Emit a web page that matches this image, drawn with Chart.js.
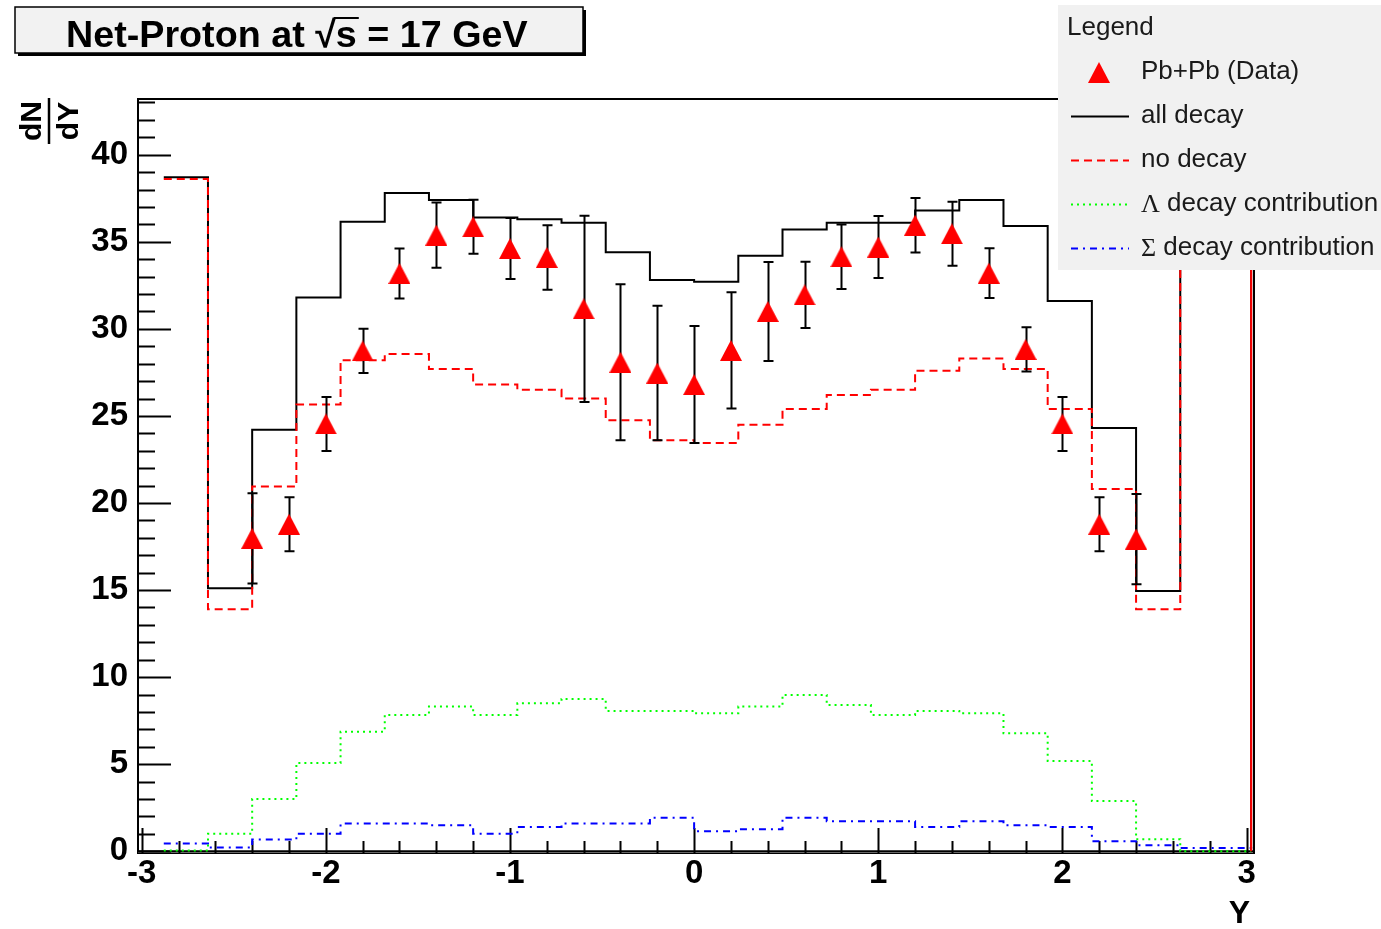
<!DOCTYPE html>
<html>
<head>
<meta charset="utf-8">
<title>Net-Proton at sqrt(s) = 17 GeV</title>
<script src="https://cdn.jsdelivr.net/npm/chart.js@4.4.1/dist/chart.umd.min.js"></script>
<style>
  html, body { margin: 0; padding: 0; background: #fff; }
  #wrap { position: relative; width: 1381px; height: 929px; }
</style>
</head>
<body>
<div id="wrap"><canvas id="chart" width="1381" height="929"></canvas></div>
<script>
// model histograms: bin edges in rapidity, one value per bin
const binEdges = [-2.88, -2.64, -2.40, -2.16, -1.92, -1.68, -1.44, -1.20, -0.96, -0.72, -0.48, -0.24,
  0, 0.24, 0.48, 0.72, 0.96, 1.20, 1.44, 1.68, 1.92, 2.16, 2.40, 2.64, 3.025];
const allDecay = [38.7, 15.1, 24.2, 31.8, 36.15, 37.8, 37.4, 36.4, 36.3, 36.1, 34.4, 32.8,
  32.7, 34.2, 35.7, 36.1, 36.1, 36.8, 37.4, 35.9, 31.6, 24.3, 14.95, 38.7];
const noDecay = [38.6, 13.9, 20.95, 25.65, 28.2, 28.55, 27.7, 26.8, 26.5, 26.0, 24.75, 23.6,
  23.45, 24.5, 25.4, 26.2, 26.5, 27.6, 28.3, 27.7, 25.4, 20.8, 13.9, 38.6];
const lambdaDecay = [0.05, 1.0, 3.0, 5.07, 6.87, 7.83, 8.31, 7.83, 8.5, 8.75, 8.06, 8.06,
  7.92, 8.31, 8.98, 8.4, 7.83, 8.06, 7.92, 6.77, 5.18, 2.88, 0.69, 0.0];
const sigmaDecay = [0.44, 0.21, 0.67, 1.01, 1.59, 1.59, 1.5, 1.01, 1.4, 1.59, 1.59, 1.93,
  1.15, 1.27, 1.93, 1.73, 1.73, 1.4, 1.73, 1.5, 1.4, 0.58, 0.35, 0.19];

// Pb+Pb data points
const dataRapidity = [-2.4, -2.2, -2.0, -1.8, -1.6, -1.4, -1.2, -1.0, -0.8, -0.6, -0.4, -0.2,
  0, 0.2, 0.4, 0.6, 0.8, 1.0, 1.2, 1.4, 1.6, 1.8, 2.0, 2.2, 2.4];
const dataValue = [17.97, 18.78, 24.54, 28.73, 33.18, 35.38, 35.86, 34.61, 34.1, 31.15, 28.08, 27.46,
  26.8, 28.76, 31.0, 31.95, 34.14, 34.7, 35.95, 35.46, 33.2, 28.82, 24.54, 18.78, 17.93];
const dataError = [2.59, 1.55, 1.55, 1.27, 1.43, 1.87, 1.55, 1.75, 1.85, 5.35, 4.48, 3.86,
  3.36, 3.34, 2.84, 1.9, 1.85, 1.78, 1.57, 1.84, 1.43, 1.27, 1.55, 1.55, 2.59];

const xTickLabels = [-3, -2, -1, 0, 1, 2, 3];
const yTickLabels = [0, 5, 10, 15, 20, 25, 30, 35, 40];

const SANS = '"Liberation Sans", Arial, Helvetica, sans-serif';
const SERIF = '"Liberation Serif", "Times New Roman", serif';

function stepPoints(values) {
  const pts = values.map((v, i) => ({ x: binEdges[i], y: v }));
  const end = binEdges[values.length];
  pts.push({ x: end, y: values[values.length - 1] });
  pts.push({ x: end, y: 0 });
  return pts;
}

// filled triangle like ROOT marker 22
const tri = document.createElement('canvas');
tri.width = 22; tri.height = 21;
(function () {
  const c = tri.getContext('2d');
  c.fillStyle = '#ff0000';
  c.beginPath();
  c.moveTo(11, 0); c.lineTo(22, 21); c.lineTo(0, 21); c.closePath();
  c.fill();
})();

const lastSeg = binEdges.length; // index of the closing vertical

const errorBars = {
  id: 'errorBars',
  beforeDatasetDraw(chart, args) {
    if (args.index !== 0) return;
    const { ctx, scales: { x, y } } = chart;
    ctx.save();
    ctx.strokeStyle = '#000';
    ctx.lineWidth = 2;
    dataRapidity.forEach((r, i) => {
      const px = Math.round(x.getPixelForValue(r)) + 0.5;
      const top = y.getPixelForValue(dataValue[i] + dataError[i]);
      const bot = y.getPixelForValue(dataValue[i] - dataError[i]);
      ctx.beginPath();
      ctx.moveTo(px, top); ctx.lineTo(px, bot);
      ctx.moveTo(px - 5, top); ctx.lineTo(px + 5, top);
      ctx.moveTo(px - 5, bot); ctx.lineTo(px + 5, bot);
      ctx.stroke();
    });
    ctx.restore();
  }
};

const rootFrame = {
  id: 'rootFrame',
  beforeDatasetsDraw(chart) {
    const { ctx, chartArea: a, scales: { x, y } } = chart;
    ctx.save();
    ctx.strokeStyle = '#000';
    ctx.lineWidth = 2;
    ctx.strokeRect(a.left, a.top, a.right - a.left + 1, a.bottom - a.top);
    // x axis line sits at y = 0, just above the frame bottom
    const y0 = y.getPixelForValue(0);
    ctx.fillStyle = '#8a8a8a';
    ctx.fillRect(a.left, y0, a.right - a.left, a.bottom - y0);
    ctx.beginPath();
    ctx.moveTo(a.left, y0); ctx.lineTo(a.right, y0);
    ctx.stroke();
    // y ticks, inward
    ctx.beginPath();
    for (let v = 0; v <= Math.floor(y.max); v++) {
      const py = Math.round(y.getPixelForValue(v)) + 0.5;
      const len = v % 5 === 0 ? 33 : 17;
      ctx.moveTo(a.left, py); ctx.lineTo(a.left + len, py);
    }
    // x ticks, upward
    for (let k = -15; k <= 15; k++) {
      const px = Math.round(x.getPixelForValue(k / 5)) + 0.5;
      const len = k % 5 === 0 ? 25 : 12;
      ctx.moveTo(px, a.bottom); ctx.lineTo(px, a.bottom - len);
    }
    ctx.stroke();
    ctx.restore();
  }
};

const decorations = {
  id: 'decorations',
  afterDraw(chart) {
    const { ctx } = chart;
    ctx.save();

    // title pave with shadow
    ctx.fillStyle = '#000';
    ctx.fillRect(18, 10, 568, 46);
    ctx.fillStyle = '#f2f2f2';
    ctx.fillRect(15, 7, 568, 46);
    ctx.strokeStyle = '#000';
    ctx.lineWidth = 1.5;
    ctx.strokeRect(15, 7, 568, 46);

    const p1 = 'Net-Proton at ', p2 = '\u221A', p3 = 's', p4 = ' = 17 GeV';
    ctx.font = 'bold 34px ' + SANS;
    const w34 = ctx.measureText(p1 + p2 + p3 + p4).width;
    const size = 34 * 462 / w34;
    ctx.font = 'bold ' + size.toFixed(1) + 'px ' + SANS;
    ctx.fillStyle = '#000';
    ctx.textBaseline = 'alphabetic';
    const w1 = ctx.measureText(p1).width, w2 = ctx.measureText(p2).width;
    const w3 = ctx.measureText(p3).width;
    const rootTop = ctx.measureText(p2).actualBoundingBoxAscent;
    let tx = 66;
    const base = 47;
    ctx.textAlign = 'left';
    ctx.fillText(p1, tx, base); tx += w1;
    ctx.fillText(p2, tx, base); tx += w2;
    ctx.lineWidth = 2;
    ctx.beginPath();
    ctx.moveTo(tx - 2, base - rootTop + 1); ctx.lineTo(tx + w3 + 2, base - rootTop + 1);
    ctx.stroke();
    ctx.fillText(p3, tx, base); tx += w3;
    ctx.fillText(p4, tx, base);

    // y axis title: dN/dY, rotated
    ctx.save();
    ctx.translate(49, 121);
    ctx.rotate(-Math.PI / 2);
    ctx.font = 'bold 30px ' + SANS;
    ctx.textAlign = 'center';
    ctx.fillText('dN', 0, -8);
    ctx.fillText('dY', 0, 29);
    ctx.lineWidth = 2.5;
    ctx.beginPath();
    ctx.moveTo(-23, 0); ctx.lineTo(23, 0);
    ctx.stroke();
    ctx.restore();

    // x axis title
    ctx.font = 'bold 32px ' + SANS;
    ctx.textAlign = 'right';
    ctx.textBaseline = 'middle';
    ctx.fillText('Y', 1250, 914);

    // legend
    ctx.fillStyle = '#f1f1f1';
    ctx.fillRect(1058, 5, 323, 265);
    ctx.fillStyle = '#1a1a1a';
    ctx.font = '26px ' + SANS;
    ctx.textAlign = 'left';
    ctx.fillText('Legend', 1067, 28);
    const rows = [72, 116, 160, 204, 248];
    chart.data.datasets.forEach((ds, i) => {
      const ry = rows[i];
      if (ds.showLine === false) {
        ctx.drawImage(tri, 1099 - 11, ry - 10);
      } else {
        ctx.save();
        ctx.strokeStyle = ds.borderColor;
        ctx.lineWidth = ds.borderWidth;
        ctx.setLineDash(ds.borderDash || []);
        ctx.beginPath();
        ctx.moveTo(1071, ry + 0.5); ctx.lineTo(1129, ry + 0.5);
        ctx.stroke();
        ctx.restore();
      }
      let lx = 1141;
      let label = ds.label;
      ctx.fillStyle = '#1a1a1a';
      if (/^[\u0391-\u03A9]/.test(label)) {
        ctx.font = '26px ' + SERIF;
        ctx.fillText(label[0], lx, ry + 1);
        lx += ctx.measureText(label[0]).width;
        label = label.slice(1);
      }
      ctx.font = '26px ' + SANS;
      ctx.fillText(label, lx, ry);
    });

    ctx.restore();
  }
};

const tickFont = { family: SANS, size: 33, weight: 'bold' };

new Chart(document.getElementById('chart'), {
  type: 'line',
  data: {
    datasets: [
      {
        label: 'Pb+Pb (Data)',
        data: dataRapidity.map((r, i) => ({ x: r, y: dataValue[i] })),
        showLine: false,
        pointStyle: tri,
        pointRadius: 11,
        order: 0
      },
      {
        label: 'all decay',
        data: stepPoints(allDecay),
        stepped: 'before',
        borderColor: '#000000',
        borderWidth: 2,
        pointRadius: 0,
        fill: false,
        order: 2
      },
      {
        label: 'no decay',
        data: stepPoints(noDecay),
        stepped: 'before',
        borderColor: '#ff0000',
        borderWidth: 2,
        borderDash: [8, 5],
        segment: { borderDash: c => (c.p1DataIndex === lastSeg ? [] : [8, 5]) },
        pointRadius: 0,
        fill: false,
        order: 1
      },
      {
        label: '\u039B decay contribution',
        data: stepPoints(lambdaDecay),
        stepped: 'before',
        borderColor: '#00ff00',
        borderWidth: 2,
        borderDash: [2, 4],
        pointRadius: 0,
        fill: false,
        order: 3
      },
      {
        label: '\u03A3 decay contribution',
        data: stepPoints(sigmaDecay),
        stepped: 'before',
        borderColor: '#0000ff',
        borderWidth: 2,
        borderDash: [7, 5, 2, 5],
        pointRadius: 0,
        fill: false,
        order: 4
      }
    ]
  },
  options: {
    responsive: false,
    animation: false,
    events: [],
    layout: { padding: { top: 99, right: 128, left: 0, bottom: 0 } },
    plugins: { legend: { display: false }, tooltip: { enabled: false } },
    scales: {
      x: {
        type: 'linear',
        position: 'bottom',
        min: -3.02,
        max: 3.035,
        grid: { display: false, drawTicks: false },
        border: { display: false },
        afterBuildTicks: s => { s.ticks = xTickLabels.map(v => ({ value: v })); },
        afterFit: s => { s.height = 76; },
        ticks: {
          font: tickFont,
          color: '#000',
          padding: 1,
          autoSkip: false,
          maxRotation: 0,
          callback: v => String(v)
        }
      },
      y: {
        type: 'linear',
        position: 'left',
        min: -0.1,
        max: 43.2,
        grid: { display: false, drawTicks: false },
        border: { display: false },
        afterBuildTicks: s => { s.ticks = yTickLabels.map(v => ({ value: v })); },
        afterFit: s => { s.width = 138; },
        ticks: {
          font: tickFont,
          color: '#000',
          padding: 10,
          autoSkip: false,
          callback: v => String(v)
        }
      }
    }
  },
  plugins: [errorBars, rootFrame, decorations]
});
</script>
</body>
</html>
